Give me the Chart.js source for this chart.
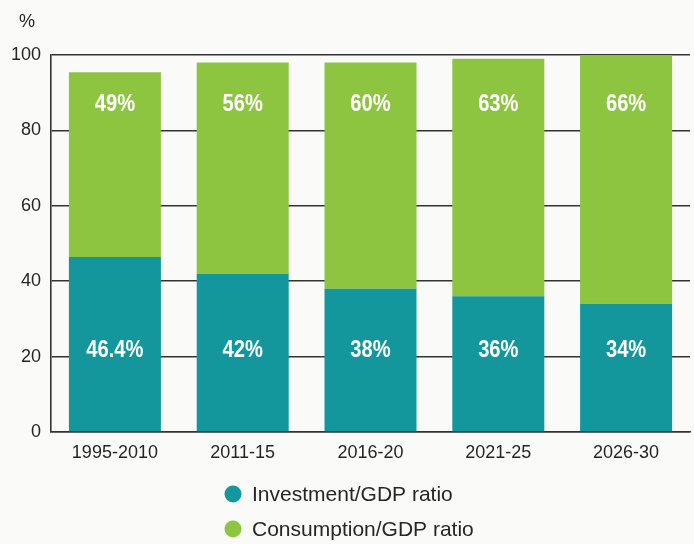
<!DOCTYPE html>
<html>
<head>
<meta charset="utf-8">
<script src="https://cdn.jsdelivr.net/npm/chart.js@4.4.1/dist/chart.umd.min.js"></script>
<style>
    html, body { margin: 0; padding: 0; background: #fafaf9; }
    #wrap { position: relative; width: 694px; height: 544px; }
</style>
</head>
<body>
<div id="wrap"><canvas id="ratioChart" width="694" height="544"></canvas></div>
<script>
const periods = ['1995-2010', '2011-15', '2016-20', '2021-25', '2026-30'];
const investment = [46.4, 42, 38, 36, 34];
const consumption = [49, 56, 60, 63, 66];
const yTicks = [0, 20, 40, 60, 80, 100];

const TEAL = '#14979c';
const GREEN = '#8dc440';
const INK = '#262626';

// value level (in axis units) where each series' labels sit
const labelLevels = [21.6, 86.8];

// white percentage labels inside each bar segment
const barLabels = {
    id: 'barLabels',
    afterDatasetsDraw(chart) {
        const ctx = chart.ctx;
        const y = chart.scales.y;
        ctx.save();
        ctx.fillStyle = '#ffffff';
        ctx.font = 'bold 24px "Liberation Sans", Arial, sans-serif';
        ctx.textAlign = 'center';
        ctx.textBaseline = 'middle';
        chart.data.datasets.forEach((ds, i) => {
            const meta = chart.getDatasetMeta(i);
            const py = y.getPixelForValue(labelLevels[i]);
            meta.data.forEach((bar, j) => {
                ctx.save();
                ctx.translate(bar.x, py);
                ctx.scale(0.84, 1);
                ctx.fillText(ds.data[j] + '%', 0, 0);
                ctx.restore();
            });
        });
        ctx.restore();
    }
};

// "%" unit above the y axis and the two-row legend underneath
const extras = {
    id: 'extras',
    afterDraw(chart) {
        const ctx = chart.ctx;
        ctx.save();
        ctx.fillStyle = INK;
        ctx.font = '18px "Liberation Sans", Arial, sans-serif';
        ctx.textAlign = 'center';
        ctx.textBaseline = 'middle';
        ctx.fillText('%', 27, 22);

        ctx.font = '21px "Liberation Sans", Arial, sans-serif';
        ctx.textAlign = 'left';
        chart.data.datasets.forEach((ds, i) => {
            const cy = 494 + i * 35;
            ctx.beginPath();
            ctx.arc(233, cy, 8.5, 0, Math.PI * 2);
            ctx.fillStyle = ds.backgroundColor;
            ctx.fill();
            ctx.fillStyle = INK;
            ctx.fillText(ds.label, 252, cy + 1);
        });
        ctx.restore();
    }
};

new Chart(document.getElementById('ratioChart'), {
    type: 'bar',
    data: {
        labels: periods,
        datasets: [
            { label: 'Investment/GDP ratio', data: investment, backgroundColor: TEAL },
            { label: 'Consumption/GDP ratio', data: consumption, backgroundColor: GREEN }
        ]
    },
    options: {
        responsive: false,
        animation: false,
        layout: { padding: { top: 55, right: 4, left: 0, bottom: 0 } },
        datasets: { bar: { categoryPercentage: 1, barPercentage: 0.72 } },
        plugins: { legend: { display: false }, tooltip: { enabled: false } },
        scales: {
            x: {
                stacked: true,
                afterFit: s => { s.height = 112; },
                grid: { display: false, drawTicks: false },
                border: { display: true, color: '#333333', width: 1.6 },
                ticks: { color: INK, padding: 10, font: { family: '"Liberation Sans", Arial, sans-serif', size: 18 } }
            },
            y: {
                stacked: true,
                min: 0,
                max: 100,
                afterFit: s => { s.width = 51; },
                afterBuildTicks: s => { s.ticks = yTicks.map(v => ({ value: v })); },
                grid: { color: '#333333', lineWidth: 1.6, drawTicks: false },
                border: { display: true, color: '#333333', width: 1.6 },
                ticks: { color: INK, padding: 10, font: { family: '"Liberation Sans", Arial, sans-serif', size: 18 } }
            }
        }
    },
    plugins: [barLabels, extras]
});
</script>
</body>
</html>
